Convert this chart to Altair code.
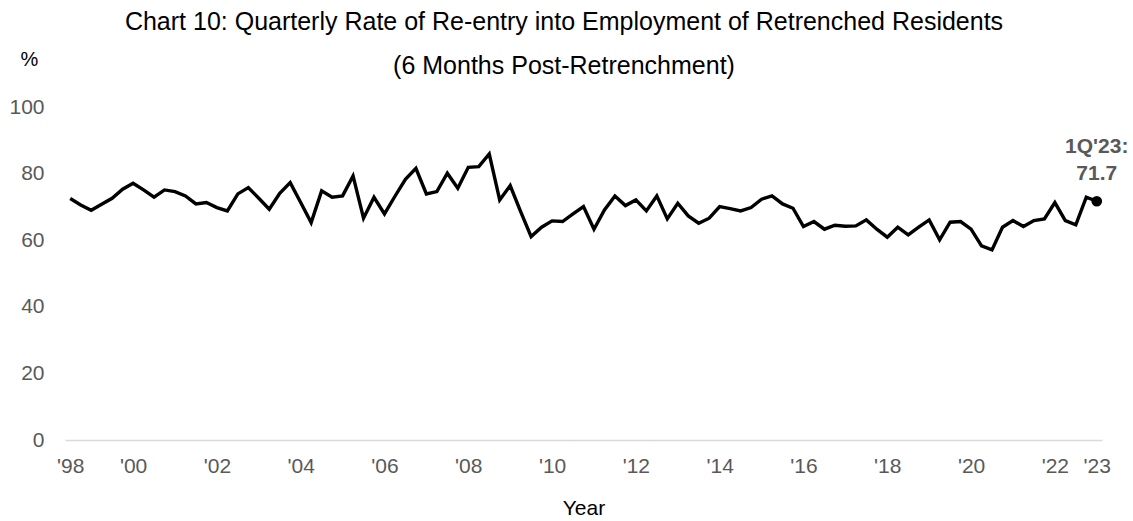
import altair as alt
import pandas as pd

FONT = "Liberation Sans"

TITLE_LINES = [
    "Chart 10: Quarterly Rate of Re-entry into Employment of Retrenched Residents",
    "(6 Months Post-Retrenchment)",
]

# Quarter labels from 3Q'98 to 1Q'23
QUARTERS = []
for i in range(99):
    q = (2 + i) % 4 + 1
    yr = (1998 + (2 + i) // 4) % 100
    QUARTERS.append(f"{q}Q'{yr:02d}")

RATES = [
    72.5, 70.6, 69.0, 70.8, 72.6, 75.3, 77.1, 75.1, 72.9, 75.1,
    74.6, 73.3, 70.9, 71.3, 69.8, 68.8, 73.9, 75.8, 72.6, 69.3,
    74.1, 77.3, 71.3, 65.3, 74.8, 72.9, 73.3, 79.3, 66.6, 72.9,
    67.9, 73.2, 78.3, 81.6, 73.9, 74.6, 80.1, 75.6, 81.9, 82.1,
    85.9, 72.1, 76.4, 68.6, 61.1, 63.9, 65.8, 65.6, 67.9, 70.1,
    63.3, 69.1, 73.3, 70.4, 72.1, 68.8, 73.3, 66.4, 71.1, 67.3,
    65.1, 66.6, 70.1, 69.5, 68.8, 69.8, 72.3, 73.3, 70.9, 69.6,
    64.1, 65.6, 63.3, 64.5, 64.2, 64.3, 66.1, 63.3, 60.9, 63.9,
    61.6, 63.9, 66.1, 60.1, 65.4, 65.6, 63.3, 58.3, 57.1, 63.9,
    65.9, 64.1, 65.9, 66.4, 71.3, 65.9, 64.6, 72.9, 71.7,
]

X_TICKS = ["3Q'98", "1Q'00", "1Q'02", "1Q'04", "1Q'06", "1Q'08", "1Q'10",
           "1Q'12", "1Q'14", "1Q'16", "1Q'18", "1Q'20", "1Q'22", "1Q'23"]
Y_TICKS = [0, 20, 40, 60, 80, 100]

df = pd.DataFrame({"quarter": QUARTERS, "rate": RATES})
df_last = pd.DataFrame({
    "quarter": [QUARTERS[-1]],
    "rate": [RATES[-1]],
    "label": [f"{QUARTERS[-1]}:\n{RATES[-1]:.1f}"],
})

x_enc = alt.X(
    "quarter:O",
    sort=None,
    scale=alt.Scale(type="point", padding=0.5),
    axis=alt.Axis(
        values=X_TICKS,
        labelExpr="slice(datum.value, 2)",
        labelAngle=0,
        ticks=False,
        tickSize=0,
        labelPadding=15,
        labelOverlap=False,
        labelFontSize=21,
        labelColor="#595959",
        domainColor="#d9d9d9",
        domainWidth=1.5,
        grid=False,
        title="Year",
        titleFontSize=21,
        titleFontWeight="normal",
        titleColor="black",
        titleY=74,
        titleBaseline="alphabetic",
    ),
)
y_enc = alt.Y(
    "rate:Q",
    scale=alt.Scale(domain=[0, 100], nice=False, zero=True),
    axis=alt.Axis(
        values=Y_TICKS,
        ticks=False,
        tickSize=0,
        domain=False,
        grid=False,
        labelPadding=21,
        labelFontSize=21,
        labelColor="#595959",
        title="%",
        titleAngle=0,
        titleFontSize=20,
        titleFontWeight="normal",
        titleColor="black",
        titleX=-36,
        titleY=-48,
        titleAlign="center",
        titleBaseline="middle",
    ),
)

line = alt.Chart(df).mark_line(color="black", strokeWidth=3.4).encode(x=x_enc, y=y_enc)
dot = alt.Chart(df_last).mark_circle(size=115, color="black", opacity=1).encode(x=x_enc, y=y_enc)
ann = alt.Chart(df_last).mark_text(
    align="center", baseline="alphabetic", dy=-48, lineHeight=27,
    fontSize=21, fontWeight="bold", color="#595959", lineBreak="\n", font=FONT,
).encode(x=x_enc, y=y_enc, text="label:N")

chart = alt.layer(line, dot, ann).properties(
    width=1037,
    height=333,
    autosize=alt.AutoSizeParams(type="none"),
    padding={"left": 65, "top": 107, "right": 31, "bottom": 81},
    title=alt.TitleParams(
        text=TITLE_LINES,
        fontSize=25,
        fontWeight="normal",
        color="black",
        font=FONT,
        anchor="middle",
        lineHeight=44,
        offset=-30,
        dx=-19.5,
    ),
).configure(
    font=FONT,
    background="white",
).configure_view(stroke=None).configure_axis(labelFont=FONT, titleFont=FONT)

chart.save("out.html", embed_options={"renderer": "svg", "actions": False})
